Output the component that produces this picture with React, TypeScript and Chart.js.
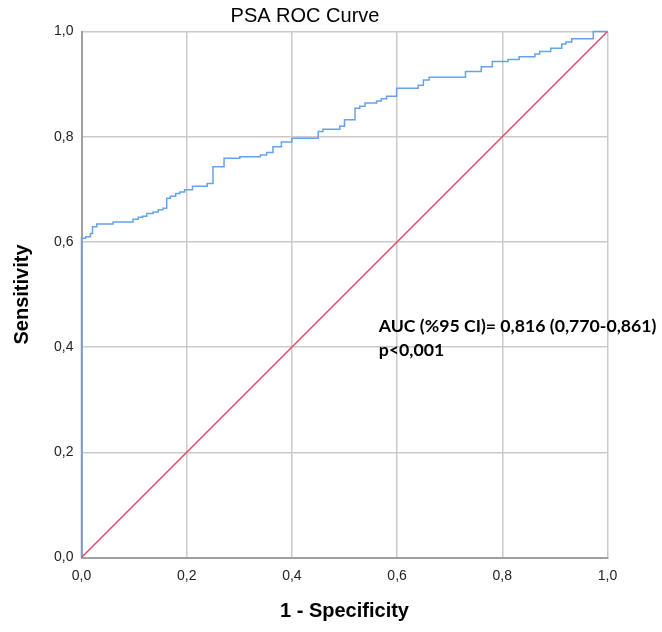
import React, { useEffect, useRef } from "react";
import { Chart, registerables } from "chart.js";

Chart.register(...registerables);

const chartTitle = "PSA ROC Curve";
const xAxisTitle = "1 - Specificity";
const yAxisTitle = "Sensitivity";
const annotationLines = ["AUC (%95 CI)= 0,816 (0,770-0,861)", "p<0,001"];
const annotationPos = { x: 0.565, y: 0.44 };
const tickValues = [0, 0.2, 0.4, 0.6, 0.8, 1.0];

const rocFpr = [0, 0, 0.008, 0.017, 0.021, 0.029, 0.06, 0.098, 0.108, 0.116, 0.124, 0.136, 0.146, 0.155, 0.162, 0.169, 0.179, 0.187, 0.196, 0.211, 0.239, 0.25, 0.271, 0.301, 0.34, 0.352, 0.364, 0.38, 0.4, 0.45, 0.459, 0.491, 0.5, 0.52, 0.529, 0.539, 0.561, 0.57, 0.58, 0.599, 0.64, 0.65, 0.661, 0.73, 0.76, 0.781, 0.811, 0.832, 0.862, 0.871, 0.892, 0.913, 0.921, 0.932, 0.973, 0.982, 1.0];
const rocTpr = [0, 0.604, 0.607, 0.61, 0.616, 0.629, 0.634, 0.638, 0.643, 0.647, 0.649, 0.654, 0.657, 0.661, 0.664, 0.683, 0.687, 0.692, 0.695, 0.699, 0.706, 0.711, 0.743, 0.759, 0.762, 0.765, 0.77, 0.781, 0.79, 0.797, 0.81, 0.814, 0.82, 0.832, 0.854, 0.858, 0.864, 0.868, 0.872, 0.877, 0.892, 0.898, 0.908, 0.913, 0.924, 0.933, 0.943, 0.947, 0.952, 0.957, 0.962, 0.968, 0.976, 0.98, 0.986, 1.0, 1.0];

const refX = [0, 1];
const refY = [0, 1];

const fmt = (v: number) => v.toFixed(1).replace(".", ",");

export default function App() {
  const ref = useRef<HTMLCanvasElement>(null);
  useEffect(() => {
    if (!ref.current) return;
    const textPlugin = {
      id: "textPlugin",
      afterDatasetsDraw(chart: any) {
        const ctx = chart.ctx;
        const xs = chart.scales.x;
        const ys = chart.scales.y;
        ctx.save();
        // title
        ctx.fillStyle = "#000";
        ctx.font = "20px 'Liberation Sans', Arial, sans-serif";
        ctx.textAlign = "center";
        ctx.textBaseline = "middle";
        ctx.fillText(chartTitle, 305, 16);
        // annotation
        ctx.textAlign = "left";
        ctx.textBaseline = "middle";
        ctx.font = "bold 100px Lato, sans-serif";
        const w = ctx.measureText(annotationLines[0]).width;
        const size = (100 * 278) / w;
        ctx.font = `bold ${size}px Lato, sans-serif`;
        const ax = xs.getPixelForValue(annotationPos.x);
        const ay = ys.getPixelForValue(annotationPos.y);
        annotationLines.forEach((t, i) => ctx.fillText(t, ax, ay + i * 24));
        ctx.restore();
      },
    };
    const axisCommon = {
      type: "linear" as const,
      min: 0,
      max: 1,
      grid: { color: "#cacaca", lineWidth: 1.5, drawTicks: false },
      border: { color: "#a0a0a0", width: 2 },
    };
    const chart = new Chart(ref.current, {
      type: "line",
      data: {
        datasets: [
          {
            label: "Reference",
            data: refX.map((x, i) => ({ x, y: refY[i] })),
            borderColor: "#e8436b",
            borderWidth: 1.5,
            pointRadius: 0,
            clip: false as any,
          },
          {
            label: "PSA",
            data: rocFpr.map((x, i) => ({ x, y: rocTpr[i] })),
            borderColor: "#66a2ea",
            borderWidth: 1.5,
            pointRadius: 0,
            stepped: "after",
            clip: false as any,
          },
        ],
      },
      options: {
        animation: false,
        responsive: false,
        layout: { padding: { top: 31.5, right: 54.5, left: 0, bottom: 0 } },
        plugins: { legend: { display: false }, tooltip: { enabled: false }, title: { display: false } },
        scales: {
          x: {
            ...axisCommon,
            afterBuildTicks: (s: any) => { s.ticks = tickValues.map((v) => ({ value: v })); },
            afterFit: (s: any) => { s.height = 74.5; },
            ticks: {
              padding: 10,
              color: "#222",
              font: { size: 14, family: "'Liberation Sans', Arial, sans-serif" },
              callback: (v: any) => fmt(Number(v)),
              maxRotation: 0,
            },
            title: {
              display: true,
              text: xAxisTitle,
              color: "#000",
              font: { size: 20, weight: "bold", family: "'Liberation Sans', Arial, sans-serif" },
              padding: { top: 0, bottom: 9 },
            },
          },
          y: {
            ...axisCommon,
            afterBuildTicks: (s: any) => { s.ticks = tickValues.map((v) => ({ value: v })); },
            afterFit: (s: any) => { s.width = 81.5; },
            ticks: {
              padding: 8,
              color: "#222",
              font: { size: 14, family: "'Liberation Sans', Arial, sans-serif" },
              callback: (v: any) => fmt(Number(v)),
            },
            title: {
              display: true,
              text: yAxisTitle,
              color: "#000",
              font: { size: 20, weight: "bold", family: "'Liberation Sans', Arial, sans-serif" },
              padding: { top: 10, bottom: 0 },
            },
          },
        },
      },
      plugins: [textPlugin],
    });
    return () => chart.destroy();
  }, []);
  return (
    <div style={{ position: "absolute", left: 0, top: 0, width: 662, height: 632, background: "#fff" }}>
      <canvas ref={ref} width={662} height={632} style={{ width: 662, height: 632 }} />
    </div>
  );
}
